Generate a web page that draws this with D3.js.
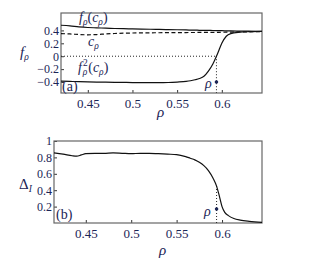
<!DOCTYPE html>
<html>
<head>
<meta charset="utf-8">
<script src="https://cdn.jsdelivr.net/npm/d3@7"></script>
<style>
  body { margin: 0; background: #fff; }
  svg text { font-family: "Liberation Serif", "DejaVu Serif", serif !important; fill: #1b2556; }
</style>
</head>
<body>
<svg width="319" height="269"></svg>
<script>
// panel (a)
var rhoA = [0.42, 0.43, 0.44, 0.45, 0.46, 0.47, 0.48, 0.49, 0.50, 0.51, 0.52, 0.53, 0.54, 0.55, 0.56, 0.565, 0.57, 0.575, 0.58, 0.585, 0.59, 0.594, 0.597, 0.60, 0.605, 0.61, 0.62, 0.63, 0.645];
var fc   = [0.48, 0.47, 0.455, 0.445, 0.44, 0.435, 0.43, 0.427, 0.424, 0.421, 0.418, 0.415, 0.412, 0.41, 0.407, 0.405, 0.404, 0.402, 0.401, 0.4, 0.399, 0.398, 0.397, 0.396, 0.394, 0.392, 0.39, 0.388, 0.385];
var cRho = [0.35, 0.345, 0.337, 0.332, 0.336, 0.345, 0.352, 0.357, 0.36, 0.362, 0.363, 0.364, 0.365, 0.366, 0.367, 0.368, 0.368, 0.369, 0.369, 0.37, 0.37, 0.371, 0.371, 0.372, 0.373, 0.374, 0.376, 0.378, 0.381];
var f2c  = [-0.385, -0.39, -0.395, -0.398, -0.4, -0.402, -0.404, -0.406, -0.408, -0.409, -0.41, -0.41, -0.407, -0.4, -0.39, -0.38, -0.365, -0.345, -0.31, -0.23, -0.12, 0.0, 0.1, 0.2, 0.31, 0.35, 0.372, 0.38, 0.384];
var rhoStar = 0.594;

// panel (b)
var rhoB  = [0.415, 0.425, 0.435, 0.44, 0.445, 0.45, 0.46, 0.47, 0.48, 0.49, 0.50, 0.51, 0.52, 0.53, 0.54, 0.55, 0.56, 0.565, 0.57, 0.575, 0.58, 0.585, 0.59, 0.594, 0.597, 0.60, 0.603, 0.607, 0.613, 0.62, 0.63, 0.644];
var delta = [0.855, 0.84, 0.82, 0.815, 0.83, 0.845, 0.85, 0.85, 0.855, 0.85, 0.845, 0.85, 0.85, 0.845, 0.84, 0.835, 0.81, 0.79, 0.77, 0.74, 0.7, 0.64, 0.55, 0.45, 0.33, 0.2, 0.13, 0.09, 0.055, 0.035, 0.02, 0.008];

var ticksX = [0.45, 0.5, 0.55, 0.6];
var ticksYA = [-0.4, -0.2, 0, 0.2, 0.4];
var ticksYB = [0.2, 0.4, 0.6, 0.8, 1];

var svg = d3.select("svg");
var fmt = function (d) { return d === 0 ? "0" : (d < 0 ? "\u2212" : "") + Math.abs(d); };

function panel(x, y, yTicks) {
  var g = svg.append("g");
  var x0 = x.range()[0], x1 = x.range()[1], y0 = y.range()[0], y1 = y.range()[1];
  var ax = g.append("g").attr("transform", "translate(0," + y0 + ")")
    .call(d3.axisBottom(x).tickValues(ticksX).tickSize(-3).tickPadding(6).tickFormat(fmt));
  var ay = g.append("g").attr("transform", "translate(" + x0 + ",0)")
    .call(d3.axisLeft(y).tickValues(yTicks).tickSize(-3).tickPadding(2).tickFormat(fmt));
  [ax, ay].forEach(function (a) {
    a.attr("font-family", null);
    a.select(".domain").remove();
    a.selectAll("line").attr("stroke", "#333");
    a.selectAll("text").attr("fill", "#1b2556");
  });
  ax.selectAll("text").style("font-size", "13px");
  ay.selectAll("text").style("font-size", "12px");
  g.append("rect").attr("x", x0).attr("y", y1).attr("width", x1 - x0).attr("height", y0 - y1)
    .attr("fill", "none").attr("stroke", "#666").attr("stroke-width", 1.2);
  return g;
}

// parts: [text, italic, dx, dy, small]
function label(g, x, y, parts, size) {
  var t = g.append("text").attr("x", x).attr("y", y).style("font-size", (size || 14) + "px");
  parts.forEach(function (p) {
    var s = t.append("tspan").text(p[0]);
    if (p[1]) s.style("font-style", "italic");
    if (p[2]) s.attr("dx", p[2]);
    if (p[3]) s.attr("dy", p[3]);
    if (p[4]) s.style("font-size", "9.5px");
  });
  return t;
}

// ---- (a)
var xa = d3.scaleLinear().domain([0.42, 0.645]).range([61, 262]);
var ya = d3.scaleLinear().domain([-0.57, 0.67]).range([93, 13]);
var ga = panel(xa, ya, ticksYA);
var lineA = function (vals) {
  return d3.line().x(function (d, i) { return xa(rhoA[i]); }).y(function (d) { return ya(d); })
    .curve(d3.curveMonotoneX)(vals);
};
ga.append("line").attr("x1", xa(0.42)).attr("x2", xa(rhoStar)).attr("y1", ya(0)).attr("y2", ya(0))
  .attr("stroke", "#222").attr("stroke-dasharray", "1,2");
ga.append("line").attr("x1", xa(rhoStar)).attr("x2", xa(rhoStar)).attr("y1", ya(0)).attr("y2", ya(-0.57))
  .attr("stroke", "#222").attr("stroke-dasharray", "1,2");
ga.append("path").attr("d", lineA(fc)).attr("fill", "none").attr("stroke", "#111").attr("stroke-width", 1.2);
ga.append("path").attr("d", lineA(cRho)).attr("fill", "none").attr("stroke", "#111").attr("stroke-width", 1.2).attr("stroke-dasharray", "4,2.5");
ga.append("path").attr("d", lineA(f2c)).attr("fill", "none").attr("stroke", "#111").attr("stroke-width", 1.2);
ga.append("circle").attr("cx", xa(rhoStar)).attr("cy", ya(-0.4)).attr("r", 1.8).attr("fill", "#1b2556");

label(ga, 79, 22, [["f", 1], ["\u03c1", 1, 0, 3, 1], ["(", 0, 0, -3], ["c", 1], ["\u03c1", 1, 0, 3, 1], [")", 0, 0, -3]]);
label(ga, 88, 46, [["c", 1], ["\u03c1", 1, 0, 3, 1]]);
label(ga, 78, 72, [["f", 1], ["2", 0, 1, -6, 1], ["\u03c1", 1, -5, 9, 1], ["(", 0, 1, -3], ["c", 1], ["\u03c1", 1, 0, 3, 1], [")", 0, 0, -3]]);
label(ga, 62, 91, [["(a)", 0]]);
label(ga, 205, 88, [["\u03c1", 1]]);
label(ga, 20, 57, [["f", 1], ["\u03c1", 1, 0, 3, 1]], 15);
label(ga, 157, 117, [["\u03c1", 1]], 15);

// ---- (b)
var xb = d3.scaleLinear().domain([0.415, 0.644]).range([54, 262]);
var yb = d3.scaleLinear().domain([0, 1]).range([223, 141]);
var gb = panel(xb, yb, ticksYB);
gb.append("line").attr("x1", xb(rhoStar)).attr("x2", xb(rhoStar)).attr("y1", yb(0)).attr("y2", yb(delta[23]))
  .attr("stroke", "#222").attr("stroke-dasharray", "1,2");
gb.append("path")
  .attr("d", d3.line().x(function (d, i) { return xb(rhoB[i]); }).y(function (d) { return yb(d); }).curve(d3.curveMonotoneX)(delta))
  .attr("fill", "none").attr("stroke", "#111").attr("stroke-width", 1.2);
gb.append("circle").attr("cx", xb(rhoStar)).attr("cy", yb(0.17)).attr("r", 1.8).attr("fill", "#1b2556");
label(gb, 56, 219, [["(b)", 0]]);
label(gb, 204, 216, [["\u03c1", 1]]);
label(gb, 19, 189, [["\u0394", 0], ["I", 1, 0, 3, 1]], 15);
label(gb, 159, 255, [["\u03c1", 1]], 15);
</script>
</body>
</html>
